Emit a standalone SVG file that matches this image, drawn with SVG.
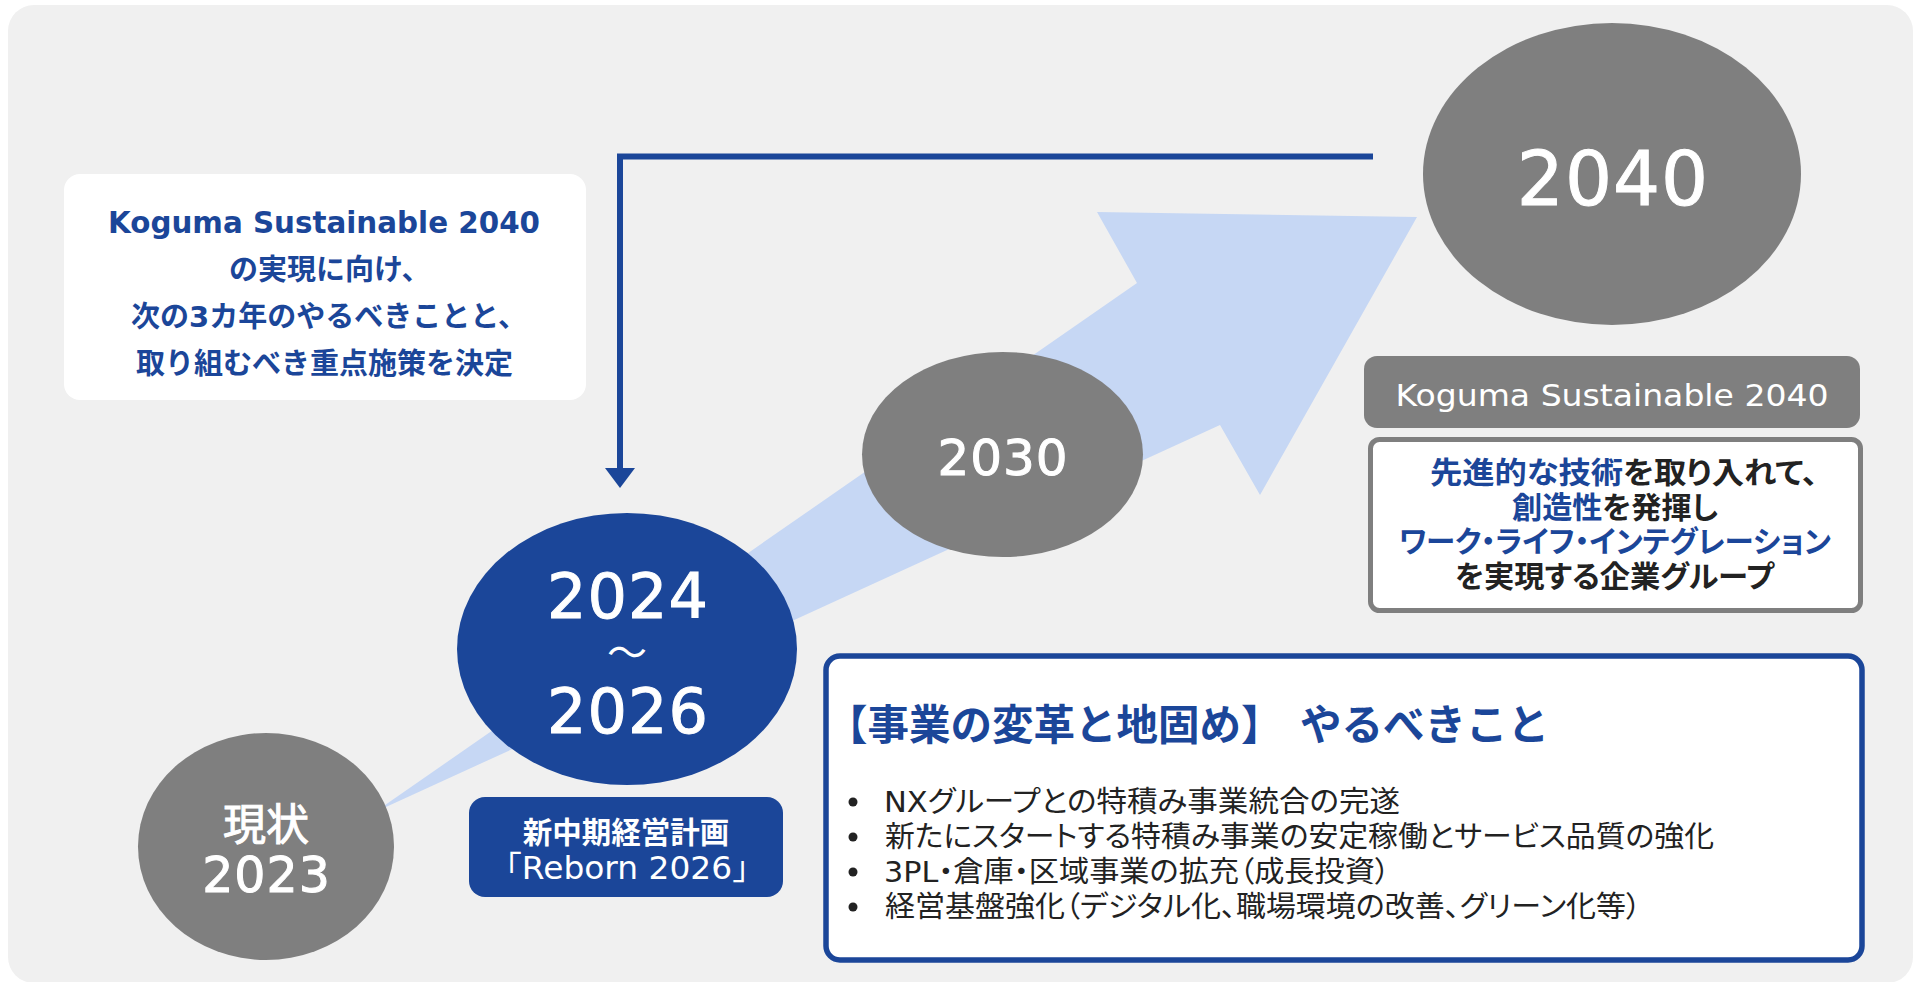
<svg xmlns="http://www.w3.org/2000/svg" width="1919" height="982" viewBox="0 0 1919 982">
  <style>
    .bg { fill: #f0f0f0; }
    .lb { fill: #c6d7f4; }
    .gray { fill: #7f7f7f; }
    .navy { fill: #1b4699; }
    .num { font-family: "DejaVu Sans", "Noto Sans CJK JP", sans-serif; fill: #ffffff; text-anchor: middle; }
    .heavy { stroke: #ffffff; stroke-width: 1; }
    .jp { font-family: "DejaVu Sans", "Noto Sans CJK JP", sans-serif; }
    .wt { fill: #ffffff; }
    .bt { fill: #1b4699; }
    .dk { fill: #222222; }
    .b { font-weight: bold; }
    .palt { font-feature-settings: "palt" 1; }
    .conn { fill: none; stroke: #1b4699; stroke-width: 6; stroke-linejoin: miter; }
  </style>
  <defs>
    <marker id="ah" markerUnits="userSpaceOnUse" markerWidth="20" markerHeight="30" viewBox="0 0 20 30" refX="0" refY="15" orient="auto">
      <path d="M0,0 L20,15 L0,30 Z" fill="#1b4699"/>
    </marker>
  </defs>

  <rect x="0" y="0" width="1919" height="982" fill="#ffffff"/>
  <rect class="bg" x="8" y="5" width="1905" height="978" rx="26"/>

  <g id="progress-arrow">
    <polygon class="lb" points="375,812 1137,283 1097,212 1417,217 1260,495 1220,425"/>
  </g>

  <g id="connectors">
    <polyline class="conn" points="1373,156.5 620,156.5 620,468" marker-end="url(#ah)"/>
  </g>

  <g id="note-decision">
    <rect x="64" y="174" width="522" height="226" rx="16" fill="#ffffff"/>
    <text class="jp bt b" x="108" y="233" font-size="29.5" textLength="432" lengthAdjust="spacingAndGlyphs">Koguma Sustainable 2040</text>
    <text class="jp bt b" x="229" y="280" font-size="29">の実現に向け、</text>
    <text class="jp bt b" x="131" y="327" font-size="29">次の3カ年のやるべきことと、</text>
    <text class="jp bt b" x="136" y="374" font-size="29">取り組むべき重点施策を決定</text>
  </g>

  <g id="node-2040">
    <ellipse class="gray" cx="1612" cy="174" rx="189" ry="151"/>
    <text class="num heavy" x="1613" y="205" font-size="74" letter-spacing="1">2040</text>
  </g>

  <g id="node-2030">
    <ellipse class="gray" cx="1002.5" cy="454.5" rx="140.5" ry="102.5"/>
    <text class="num heavy" x="1003" y="475" font-size="50" letter-spacing="1">2030</text>
  </g>

  <g id="node-2024-2026">
    <ellipse class="navy" cx="627" cy="649" rx="170" ry="136"/>
    <text class="num heavy" x="628" y="618" font-size="62" letter-spacing="1">2024</text>
    <text class="num" x="627" y="667" font-size="40">〜</text>
    <text class="num heavy" x="628" y="733" font-size="62" letter-spacing="1">2026</text>
  </g>

  <g id="node-current">
    <ellipse class="gray" cx="266" cy="846.5" rx="128" ry="113.5"/>
    <text class="num heavy" x="266" y="840" font-size="43">現状</text>
    <text class="num heavy" x="266.5" y="892" font-size="49" letter-spacing="1">2023</text>
  </g>

  <g id="plan-label">
    <rect class="navy" x="469" y="797" width="314" height="100" rx="16"/>
    <text class="num b" x="626" y="843" font-size="29.5">新中期経営計画</text>
    <text class="num" x="627" y="879" font-size="32" textLength="276" lengthAdjust="spacingAndGlyphs">「Reborn 2026」</text>
  </g>

  <g id="vision-title">
    <rect class="gray" x="1364" y="356" width="496" height="72" rx="13"/>
    <text class="num" x="1612" y="406" font-size="31" textLength="433" lengthAdjust="spacingAndGlyphs">Koguma Sustainable 2040</text>
  </g>

  <g id="vision-body">
    <rect x="1370.5" y="439.5" width="490" height="171" rx="9" fill="#ffffff" stroke="#7f7f7f" stroke-width="5"/>
    <text class="jp b palt dk" x="1430" y="483" font-size="30" textLength="388" lengthAdjust="spacingAndGlyphs"><tspan class="bt">先進的な技術</tspan>を取り入れて、</text>
    <text class="jp b palt dk" x="1512" y="517.5" font-size="30" textLength="206" lengthAdjust="spacingAndGlyphs"><tspan class="bt">創造性</tspan>を発揮し</text>
    <text class="jp b palt bt" x="1399" y="552" font-size="30" textLength="432" lengthAdjust="spacingAndGlyphs">ワーク・ライフ・インテグレーション</text>
    <text class="jp b palt dk" x="1455" y="586.5" font-size="30" textLength="319" lengthAdjust="spacingAndGlyphs">を実現する企業グループ</text>
  </g>

  <g id="actions-box">
    <rect x="826" y="656" width="1036" height="304" rx="14" fill="#ffffff" stroke="#1b4699" stroke-width="5.5"/>
    <text class="jp bt b" x="826" y="740" font-size="41.5">【事業の変革と地固め】<tspan x="1300">やるべきこと</tspan></text>
    <g class="dk">
      <circle cx="853" cy="802" r="4.5"/>
      <circle cx="853" cy="837" r="4.5"/>
      <circle cx="853" cy="872" r="4.5"/>
      <circle cx="853" cy="907" r="4.5"/>
    </g>
    <text class="jp palt dk" x="884" y="812" font-size="29" textLength="516" lengthAdjust="spacingAndGlyphs">NXグループとの特積み事業統合の完遂</text>
    <text class="jp palt dk" x="885" y="847" font-size="29" textLength="829" lengthAdjust="spacingAndGlyphs">新たにスタートする特積み事業の安定稼働とサービス品質の強化</text>
    <text class="jp palt dk" x="884" y="882" font-size="29" textLength="506" lengthAdjust="spacingAndGlyphs">3PL・倉庫・区域事業の拡充（成長投資）</text>
    <text class="jp palt dk" x="885" y="917" font-size="29" textLength="756" lengthAdjust="spacingAndGlyphs">経営基盤強化（デジタル化、職場環境の改善、グリーン化等）</text>
  </g>
</svg>
